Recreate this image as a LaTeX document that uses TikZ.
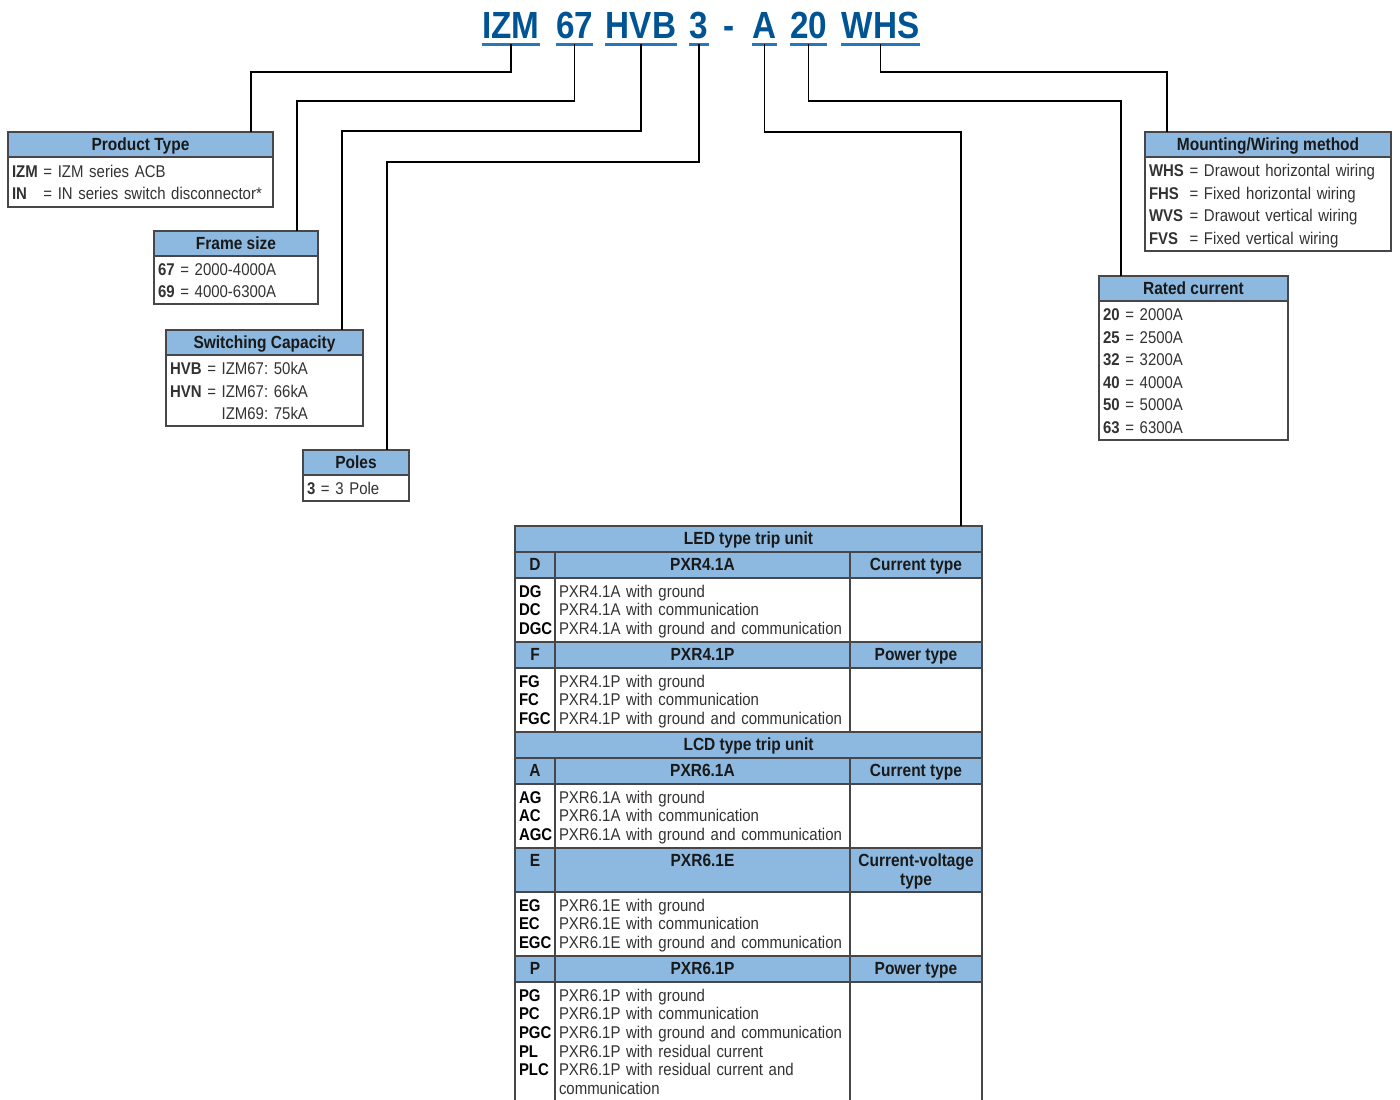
\documentclass[tikz,border=0pt]{standalone}
\usepackage{fontspec}
\usepackage{array}
\setmainfont{Liberation Sans}[FakeStretch=0.88]
\usetikzlibrary{positioning}

\definecolor{codeblue}{RGB}{0,84,147}
\definecolor{lineblue}{RGB}{38,120,190}
\definecolor{hdrblue}{RGB}{141,185,224}
\definecolor{rulegray}{RGB}{70,70,75}
\definecolor{txtgray}{RGB}{50,50,50}

\newcommand{\keyrows}[2]{\raisebox{-1pt}[\height][\depth]{\begin{tabular}{@{}#1@{}}#2\end{tabular}}}
\newcommand{\hcell}[1]{\raisebox{-1pt}[\height][\depth]{\begin{tabular}{@{}c@{}}#1\end{tabular}}}

\tikzset{
  code/.style={font=\fontsize{18.9}{20}\selectfont\bfseries, text=codeblue, inner sep=0pt, anchor=base, text depth=3pt},
  uline/.style={draw=lineblue, line width=1.25pt},
  wire/.style={line width=0.6pt},
  hdr/.style={draw=rulegray, fill=hdrblue, line width=0.6pt, anchor=north west, minimum height=12.5pt, inner sep=0pt, outer sep=0pt, text height=6.3pt, text depth=0pt, font=\fontsize{8.8}{10}\selectfont\bfseries, text=black!90},
  bdy/.style={draw=rulegray, line width=0.6pt, anchor=north west, inner xsep=2pt, inner ysep=0pt, outer sep=0pt, align=left, font=\fontsize{8.5}{11.25}\selectfont, text=txtgray},
  cellh/.style={draw=rulegray, fill=hdrblue, line width=0.6pt, anchor=north west, inner sep=0pt, outer sep=0pt, font=\fontsize{8.8}{9.5}\selectfont\bfseries, text=black!90},
  cellb/.style={draw=rulegray, line width=0.6pt, anchor=north west, inner xsep=2pt, inner ysep=0pt, outer sep=0pt, align=left, font=\fontsize{8.5}{9.35}\selectfont, text=txtgray}
}

\begin{document}
\frenchspacing
\begin{tikzpicture}[x=0.5pt, y=-0.5pt]
  \useasboundingbox (0,0) rectangle (1400,1099);
  \newcommand{\keybox}[7]{%
    \node[hdr, minimum width=#3] (#1) at #2 {#6};
    \node[bdy, text width=#4, minimum height=#5] (#1b) at (#1.south west) {#7};
  }%
  \newcommand{\tripsec}[9]{%
    \node[cellh, minimum width=20pt, minimum height=#6] (#1l) at #2 {\hcell{#3}};
    \node[cellh, minimum width=147.5pt, minimum height=#6] (#1m) at (#1l.north east) {\hcell{#4}};
    \node[cellh, minimum width=66pt, minimum height=#6] (#1t) at (#1m.north east) {\hcell{#5}};
    \node[cellb, text width=16pt, minimum height=#9] (#1c) at (#1l.south west) {\keyrows{>{\bfseries\color{black}}l}{#7}};
    \node[cellb, text width=143.5pt, minimum height=#9] (#1d) at (#1m.south west) {\keyrows{l}{#8}};
    \node[cellb, minimum width=66pt, minimum height=#9] (#1x) at (#1t.south west) {};
  }%
  % type code
  \node[code] (cIZM) at (511,38) {IZM};
  \node[code] (c67) at (574.5,38) {67};
  \node[code] (cHVB) at (641,38) {HVB};
  \node[code] (c3) at (699,38) {3};
  \node[code] (cdash) at (729,38) {-};
  \node[code] (cA) at (764.5,38) {A};
  \node[code] (c20) at (808.5,38) {20};
  \node[code] (cWHS) at (880.5,38) {WHS};
  \foreach \w in {cIZM,c67,cHVB,c3,cA,c20,cWHS}
    \draw[uline] (\w.south west) -- (\w.south east);

  % key boxes
  \keybox{ptype}{(8,132)}{132.5pt}{128.5pt}{25pt}{Product Type}
    {\keyrows{l@{\ }c@{\ }l}{\textbf{IZM} & = & IZM series ACB\\ \textbf{IN} & = & IN series switch disconnector*}}
  \keybox{frame}{(154,231)}{82pt}{78pt}{24pt}{Frame size}
    {\keyrows{l@{\ }c@{\ }l}{\textbf{67} & = & 2000-4000A\\ \textbf{69} & = & 4000-6300A}}
  \keybox{switch}{(166,330)}{98.5pt}{94.5pt}{35.5pt}{Switching Capacity}
    {\keyrows{l@{\ }c@{\ }l}{\textbf{HVB} & = & IZM67: 50kA\\ \textbf{HVN} & = & IZM67: 66kA\\ & & IZM69: 75kA}}
  \keybox{poles}{(303,450)}{53pt}{49pt}{13pt}{Poles}
    {\keyrows{l@{\ }c@{\ }l}{\textbf{3} & = & 3 Pole}}
  \keybox{mount}{(1145,132)}{123pt}{119pt}{47pt}{Mounting/Wiring method}
    {\keyrows{l@{\ }c@{\ }l}{\textbf{WHS} & = & Drawout horizontal wiring\\ \textbf{FHS} & = & Fixed horizontal wiring\\
      \textbf{WVS} & = & Drawout vertical wiring\\ \textbf{FVS} & = & Fixed vertical wiring}}
  \keybox{rated}{(1099,276)}{94.5pt}{90.5pt}{69.5pt}{Rated current}
    {\keyrows{l@{\ }c@{\ }l}{\textbf{20} & = & 2000A\\ \textbf{25} & = & 2500A\\ \textbf{32} & = & 3200A\\
      \textbf{40} & = & 4000A\\ \textbf{50} & = & 5000A\\ \textbf{63} & = & 6300A}}

  % trip unit table
  \node[cellh, minimum width=233.5pt, minimum height=13pt] (led) at (515,526) {\hcell{LED type trip unit}};
  \tripsec{d}{(led.south west)}{D}{PXR4.1A}{Current type}{13pt}{DG\\DC\\DGC}
    {PXR4.1A with ground\\PXR4.1A with communication\\PXR4.1A with ground and communication}{32pt}
  \tripsec{f}{(dc.south west)}{F}{PXR4.1P}{Power type}{13pt}{FG\\FC\\FGC}
    {PXR4.1P with ground\\PXR4.1P with communication\\PXR4.1P with ground and communication}{32pt}
  \node[cellh, minimum width=233.5pt, minimum height=13pt] (lcd) at (fc.south west) {\hcell{LCD type trip unit}};
  \tripsec{a}{(lcd.south west)}{A}{PXR6.1A}{Current type}{13pt}{AG\\AC\\AGC}
    {PXR6.1A with ground\\PXR6.1A with communication\\PXR6.1A with ground and communication}{32pt}
  \tripsec{e}{(ac.south west)}{E\\~}{PXR6.1E\\~}{Current-voltage\\type}{22pt}{EG\\EC\\EGC}
    {PXR6.1E with ground\\PXR6.1E with communication\\PXR6.1E with ground and communication}{32pt}
  \tripsec{p}{(ec.south west)}{P}{PXR6.1P}{Power type}{13pt}{PG\\PC\\PGC\\PL\\PLC\\~}
    {PXR6.1P with ground\\PXR6.1P with communication\\PXR6.1P with ground and communication\\
     PXR6.1P with residual current\\PXR6.1P with residual current and\\communication}{60pt}

  % connectors
  \coordinate (eIZM) at (251,72);
  \coordinate (e67) at (297,101);
  \coordinate (eHVB) at (342,131);
  \coordinate (e3) at (387,162);
  \coordinate (eA) at (961,132);
  \coordinate (e20) at (1121,101);
  \coordinate (eWHS) at (1167,72);
  \draw[wire] (cIZM.south) |- (eIZM) -- (eIZM |- ptype.north);
  \draw[wire] (c67.south) |- (e67) -- (e67 |- frame.north);
  \draw[wire] (cHVB.south) |- (eHVB) -- (eHVB |- switch.north);
  \draw[wire] (c3.south) |- (e3) -- (e3 |- poles.north);
  \draw[wire] (cA.south) |- (eA) -- (eA |- led.north);
  \draw[wire] (c20.south) |- (e20) -- (e20 |- rated.north);
  \draw[wire] (cWHS.south) |- (eWHS) -- (eWHS |- mount.north);
\end{tikzpicture}
\end{document}
